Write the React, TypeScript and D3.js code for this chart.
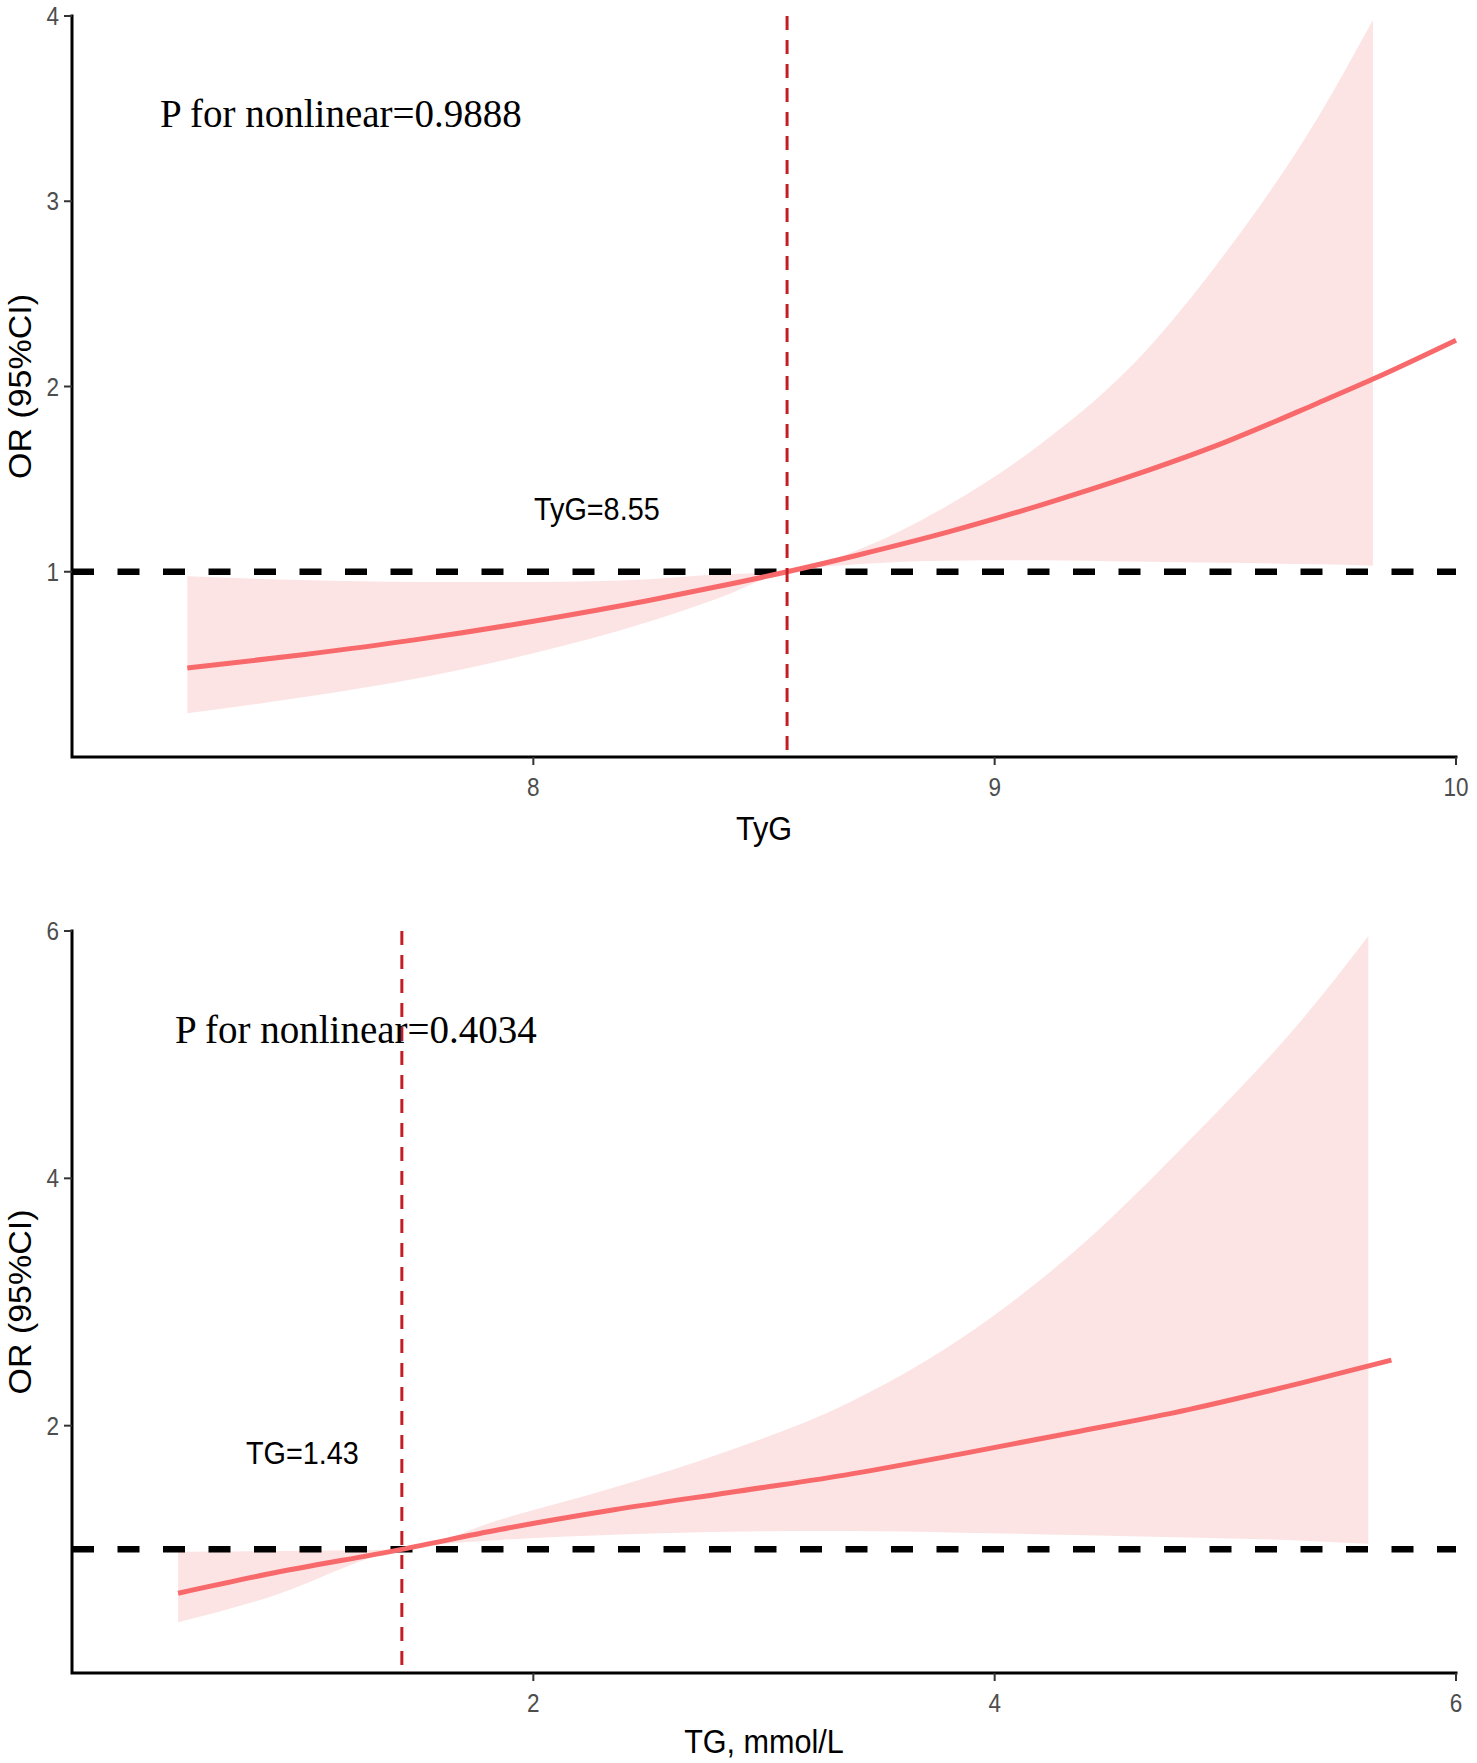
import React from "react";
import * as d3 from "d3";

// ---------- Data ----------
// Panel A: TyG
const tygLineX = [7.25, 7.5, 7.75, 8.0, 8.25, 8.4, 8.55, 8.7, 8.9, 9.1, 9.3, 9.5, 9.7, 9.82, 10.0];
const tygLineOR = [0.48, 0.552, 0.635, 0.733, 0.845, 0.92, 1.0, 1.088, 1.215, 1.36, 1.52, 1.7, 1.91, 2.04, 2.25];
const tygBandX = [7.25, 7.5, 7.75, 8.0, 8.25, 8.4, 8.55, 8.7, 8.9, 9.1, 9.3, 9.5, 9.7, 9.82];
const tygLower = [0.236, 0.322, 0.425, 0.56, 0.73, 0.855, 1.0, 1.04, 1.06, 1.062, 1.055, 1.048, 1.04, 1.033];
const tygUpper = [0.976, 0.955, 0.945, 0.945, 0.96, 0.985, 1.0, 1.115, 1.36, 1.69, 2.12, 2.72, 3.45, 3.98];
const tygXTicks = [8, 9, 10];
const tygYTicks = [1, 2, 3, 4];
const tygCut = 8.55;

// Panel B: TG
const tgLineX = [0.46, 0.85, 1.43, 1.855, 2.35, 2.85, 3.35, 3.85, 4.34, 4.84, 5.34, 5.72];
const tgLineOR = [0.645, 0.8, 1.0, 1.16, 1.32, 1.46, 1.6, 1.77, 1.945, 2.13, 2.35, 2.53];
const tgBandX = [0.46, 0.85, 1.43, 1.855, 2.35, 2.85, 3.35, 3.85, 4.34, 4.84, 5.34, 5.62];
const tgLower = [0.41, 0.61, 1.0, 1.075, 1.118, 1.143, 1.148, 1.135, 1.115, 1.095, 1.07, 1.045];
const tgUpper = [0.98, 0.985, 1.0, 1.24, 1.5, 1.8, 2.17, 2.7, 3.4, 4.3, 5.3, 5.96];
const tgXTicks = [2, 4, 6];
const tgYTicks = [2, 4, 6];
const tgCut = 1.43;

const W = 1477;
const H = 1763;

const LINE_COLOR = "#F8696B";
const BAND_COLOR = "#FDE4E4";
const CUT_COLOR = "#C41E24";
const TICK_COLOR = "#4D4D4D";
const SANS = "Arial, 'Liberation Sans', sans-serif";
const SERIF = "'Times New Roman', 'Liberation Serif', serif";

type PanelProps = {
  top: number;
  bottom: number;
  left: number;
  right: number;
  xDomain: [number, number];
  yDomain: [number, number];
  lineX: number[];
  lineY: number[];
  bandX: number[];
  lower: number[];
  upper: number[];
  xTicks: number[];
  yTicks: number[];
  cut: number;
  xTitle: string;
  xTitleOffset: number;
  pText: string;
  pX: number;
  pY: number;
  cutLabel: string;
  cutLabelX: number;
  cutLabelY: number;
};

function SqText(props: {
  x: number;
  y: number;
  children: React.ReactNode;
  size: number;
  anchor?: string;
  fill?: string;
  family?: string;
  rotate?: number;
}) {
  const { x, y, size, anchor = "start", fill = "#000", family = SANS, rotate = 0 } = props;
  return (
    <text
      transform={`translate(${x},${y}) scale(0.9,1)${rotate ? ` rotate(${rotate})` : ""}`}
      fontSize={size}
      fontFamily={family}
      textAnchor={anchor}
      fill={fill}
    >
      {props.children}
    </text>
  );
}

function Panel(p: PanelProps) {
  const x = d3.scaleLinear().domain(p.xDomain).range([p.left, p.right]);
  const y = d3.scaleLinear().domain(p.yDomain).range([p.bottom, p.top]);

  const linePts = p.lineX.map((v, i) => [v, p.lineY[i]] as [number, number]);
  const bandPts = p.bandX.map((v, i) => ({ x: v, lo: p.lower[i], hi: p.upper[i] }));

  const lineGen = d3
    .line<[number, number]>()
    .x((d) => x(d[0]))
    .y((d) => y(d[1]))
    .curve(d3.curveMonotoneX);
  const areaGen = d3
    .area<{ x: number; lo: number; hi: number }>()
    .x((d) => x(d.x))
    .y0((d) => y(d.lo))
    .y1((d) => y(d.hi))
    .curve(d3.curveMonotoneX);

  const midY = (p.top + p.bottom) / 2;
  const midX = (p.left + p.right) / 2;

  return (
    <g>
      <path d={areaGen(bandPts) || ""} fill={BAND_COLOR} stroke="none" />
      <line
        x1={p.left}
        x2={p.right}
        y1={y(1)}
        y2={y(1)}
        stroke="#000"
        strokeWidth={6.5}
        strokeDasharray="22 23.5"
      />
      <path d={lineGen(linePts) || ""} fill="none" stroke={LINE_COLOR} strokeWidth={5} />
      <line
        x1={x(p.cut)}
        x2={x(p.cut)}
        y1={p.top}
        y2={p.bottom}
        stroke={CUT_COLOR}
        strokeWidth={3}
        strokeDasharray="14 10"
      />
      {/* axes */}
      <path
        d={`M${p.left},${p.top} L${p.left},${p.bottom} L${p.right},${p.bottom}`}
        fill="none"
        stroke="#000"
        strokeWidth={3}
        strokeLinejoin="miter"
        strokeLinecap="square"
      />
      {p.yTicks.map((t) => (
        <g key={"y" + t}>
          <line x1={p.left - 8} x2={p.left} y1={y(t)} y2={y(t)} stroke="#333" strokeWidth={2} />
          <SqText x={p.left - 13} y={y(t) + 9} size={25} anchor="end" fill={TICK_COLOR}>
            {t}
          </SqText>
        </g>
      ))}
      {p.xTicks.map((t) => (
        <g key={"x" + t}>
          <line x1={x(t)} x2={x(t)} y1={p.bottom} y2={p.bottom + 8} stroke="#333" strokeWidth={2} />
          <SqText x={x(t)} y={p.bottom + 39} size={25} anchor="middle" fill={TICK_COLOR}>
            {t}
          </SqText>
        </g>
      ))}
      <SqText x={midX} y={p.bottom + p.xTitleOffset} size={34} anchor="middle">
        {p.xTitle}
      </SqText>
      <SqText x={31} y={midY} size={34} anchor="middle" rotate={-90}>
        OR (95%CI)
      </SqText>
      <text x={p.pX} y={p.pY} fontSize={39} fontFamily={SERIF} fill="#000">
        {p.pText}
      </text>
      <SqText x={p.cutLabelX} y={p.cutLabelY} size={32}>
        {p.cutLabel}
      </SqText>
    </g>
  );
}

export default function App() {
  return (
    <div style={{ position: "absolute", left: 0, top: 0, width: W, height: H, background: "#fff" }}>
      <svg width={W} height={H} viewBox={`0 0 ${W} ${H}`} style={{ display: "block" }}>
        <rect x={0} y={0} width={W} height={H} fill="#fff" />
        <Panel
          top={16}
          bottom={757}
          left={72}
          right={1456}
          xDomain={[7, 10]}
          yDomain={[0, 4]}
          lineX={tygLineX}
          lineY={tygLineOR}
          bandX={tygBandX}
          lower={tygLower}
          upper={tygUpper}
          xTicks={tygXTicks}
          yTicks={tygYTicks}
          cut={tygCut}
          xTitle="TyG"
          xTitleOffset={83}
          pText="P for nonlinear=0.9888"
          pX={160}
          pY={127}
          cutLabel={"TyG=" + tygCut.toFixed(2)}
          cutLabelX={534}
          cutLabelY={520}
        />
        <Panel
          top={931}
          bottom={1673}
          left={72}
          right={1456}
          xDomain={[0, 6]}
          yDomain={[0, 6]}
          lineX={tgLineX}
          lineY={tgLineOR}
          bandX={tgBandX}
          lower={tgLower}
          upper={tgUpper}
          xTicks={tgXTicks}
          yTicks={tgYTicks}
          cut={tgCut}
          xTitle="TG, mmol/L"
          xTitleOffset={80}
          pText="P for nonlinear=0.4034"
          pX={175}
          pY={1043}
          cutLabel={"TG=" + tgCut.toFixed(2)}
          cutLabelX={246}
          cutLabelY={1464}
        />
      </svg>
    </div>
  );
}
